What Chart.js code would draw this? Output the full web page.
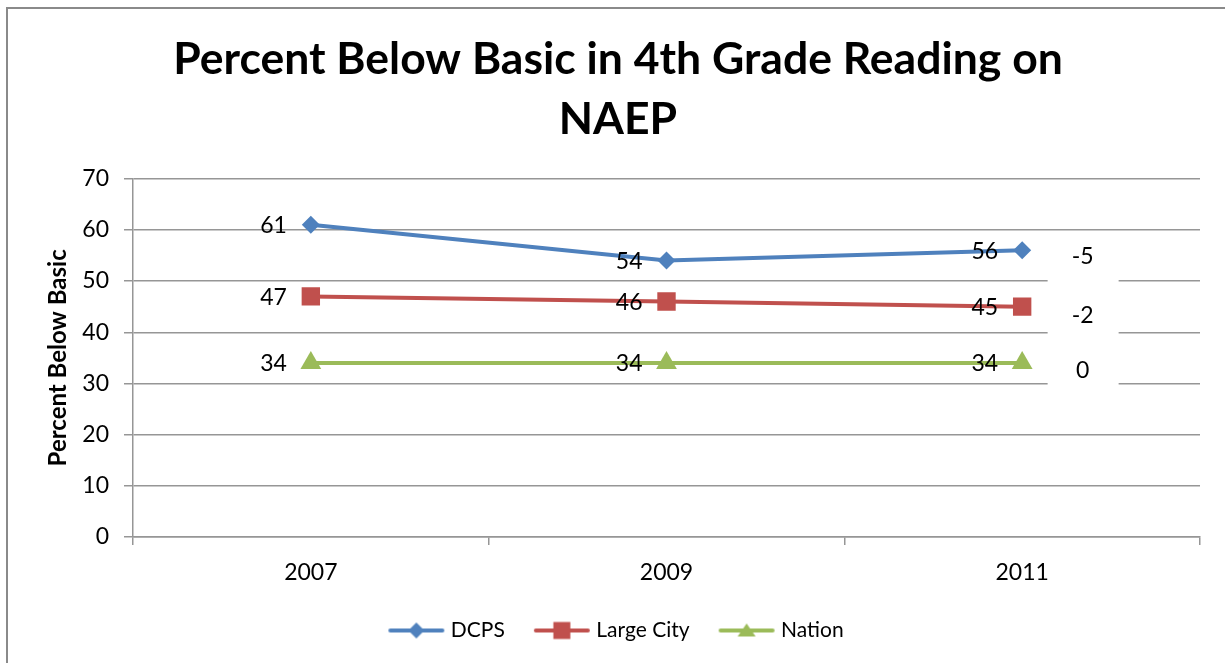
<!DOCTYPE html>
<html>
<head>
<meta charset="utf-8">
<script src="https://cdn.jsdelivr.net/npm/chart.js@4.4.1/dist/chart.umd.min.js"></script>
<style>
    html, body { margin: 0; padding: 0; background: #fff; }
    #wrap { width: 1225px; height: 663px; position: relative; }
</style>
</head>
<body>
<div id="wrap"><canvas id="chart"></canvas></div>
<script>
// chart values
const years = ["2007", "2009", "2011"];
const dcps = [61, 54, 56];
const largeCity = [47, 46, 45];
const nation = [34, 34, 34];

// change from 2007 to 2011, written at the right of the lines
const changeLabels = ["-5", "-2", "0"];
const changeValues = [54.8, 43.2, 32.5];

const blue = "#4F81BD";
const red = "#C0504D";
const green = "#9BBB59";
const gridColor = "#969696";
const fontName = "Lato, 'Open Sans', sans-serif";

Chart.defaults.font.family = fontName;
Chart.defaults.color = "#000";

// legend symbol: a short line with the marker in the middle
function legendSymbol(color, shape) {
    var c = document.createElement("canvas");
    c.width = 58;
    c.height = 22;
    var ctx = c.getContext("2d");
    ctx.strokeStyle = color;
    ctx.fillStyle = color;
    ctx.lineWidth = 4;
    ctx.lineCap = "round";
    ctx.beginPath();
    ctx.moveTo(3, 11);
    ctx.lineTo(55, 11);
    ctx.stroke();
    ctx.beginPath();
    if (shape == "diamond") {
        ctx.moveTo(29, 3);
        ctx.lineTo(37, 11);
        ctx.lineTo(29, 19);
        ctx.lineTo(21, 11);
    } else if (shape == "square") {
        ctx.rect(20.5, 2.5, 17, 17);
    } else {
        ctx.moveTo(29, 4);
        ctx.lineTo(38, 17);
        ctx.lineTo(20, 17);
    }
    ctx.closePath();
    ctx.fill();
    return c;
}

const frame = {
    id: "frame",
    afterDraw(chart) {
        const ctx = chart.ctx;
        ctx.save();
        ctx.strokeStyle = "#8a8a8a";
        ctx.lineWidth = 2;
        ctx.beginPath();
        ctx.moveTo(7, chart.height);
        ctx.lineTo(7, 8);
        ctx.lineTo(chart.width, 8);
        ctx.stroke();
        ctx.restore();
    },
};

const changeNotes = {
    id: "changeNotes",
    beforeDatasetsDraw(chart) {
        const ctx = chart.ctx;
        const x = chart.scales.x;
        const y = chart.scales.y;
        const step = x.getPixelForValue(1) - x.getPixelForValue(0);
        const cx = x.getPixelForValue(2) + step * 0.17;
        ctx.save();
        ctx.fillStyle = "#fff";
        ctx.fillRect(cx - 35, y.getPixelForValue(59), 71, y.getPixelForValue(28.5) - y.getPixelForValue(59));
        ctx.fillStyle = "#000";
        ctx.font = "23px " + fontName;
        ctx.textAlign = "center";
        ctx.textBaseline = "middle";
        for (let i = 0; i < changeLabels.length; i++) {
            ctx.fillText(changeLabels[i], cx, y.getPixelForValue(changeValues[i]));
        }
        ctx.restore();
    },
};

const pointLabels = {
    id: "pointLabels",
    afterDatasetsDraw(chart) {
        const ctx = chart.ctx;
        ctx.save();
        ctx.fillStyle = "#000";
        ctx.font = "23px " + fontName;
        ctx.textAlign = "right";
        ctx.textBaseline = "middle";
        chart.data.datasets.forEach((ds, i) => {
            const meta = chart.getDatasetMeta(i);
            meta.data.forEach((pt, j) => {
                ctx.fillText(ds.data[j], pt.x - 24, pt.y + 1);
            });
        });
        ctx.restore();
    },
};

const symbols = [legendSymbol(blue, "diamond"), legendSymbol(red, "square"), legendSymbol(green, "triangle")];

new Chart(document.getElementById("chart"), {
    type: "line",
    data: {
        labels: years,
        datasets: [
            {
                label: "DCPS",
                data: dcps,
                borderColor: blue,
                backgroundColor: blue,
                borderWidth: 4,
                pointStyle: "rectRot",
                pointRadius: 9,
                pointBorderWidth: 0,
            },
            {
                label: "Large City",
                data: largeCity,
                borderColor: red,
                backgroundColor: red,
                borderWidth: 4,
                pointStyle: "rect",
                pointRadius: 13,
                pointBorderWidth: 0,
            },
            {
                label: "Nation",
                data: nation,
                borderColor: green,
                backgroundColor: green,
                borderWidth: 4,
                pointStyle: "triangle",
                pointRadius: 12,
                pointBorderWidth: 0,
            },
        ],
    },
    options: {
        responsive: true,
        maintainAspectRatio: false,
        animation: false,
        events: [],
        layout: {
            padding: { left: 36, right: 25, top: 30, bottom: 12 },
        },
        plugins: {
            title: {
                display: true,
                text: ["Percent Below Basic in 4th Grade Reading on", "NAEP"],
                font: { size: 44.5, weight: "bold", lineHeight: 1.345 },
                padding: { top: 0, bottom: 29 },
            },
            legend: {
                position: "bottom",
                labels: {
                    usePointStyle: true,
                    pointStyleWidth: 48,
                    font: { size: 21 },
                    padding: 33,
                    generateLabels(chart) {
                        return chart.data.datasets.map((ds, i) => ({
                            text: ds.label,
                            pointStyle: symbols[i],
                            fillStyle: ds.borderColor,
                            strokeStyle: ds.borderColor,
                            lineWidth: 0,
                            datasetIndex: i,
                            hidden: false,
                        }));
                    },
                },
            },
            tooltip: { enabled: false },
        },
        scales: {
            x: {
                offset: true,
                grid: {
                    offset: true,
                    drawOnChartArea: false,
                    color: gridColor,
                    lineWidth: 1.5,
                    tickLength: 8,
                },
                border: { color: gridColor, width: 1.5 },
                ticks: { font: { size: 23 }, padding: 14 },
                afterFit(scale) {
                    scale.height = 50;
                },
            },
            y: {
                min: 0,
                max: 70,
                ticks: { stepSize: 10, font: { size: 23 }, padding: 15 },
                grid: { color: gridColor, lineWidth: 1.5, tickLength: 9 },
                border: { color: gridColor, width: 1.5 },
                title: {
                    display: true,
                    text: "Percent Below Basic",
                    font: { size: 24, weight: "bold" },
                    padding: { top: 8, bottom: 0 },
                },
                afterFit(scale) {
                    scale.width = 97;
                },
            },
        },
    },
    plugins: [frame, changeNotes, pointLabels],
});
</script>
</body>
</html>
